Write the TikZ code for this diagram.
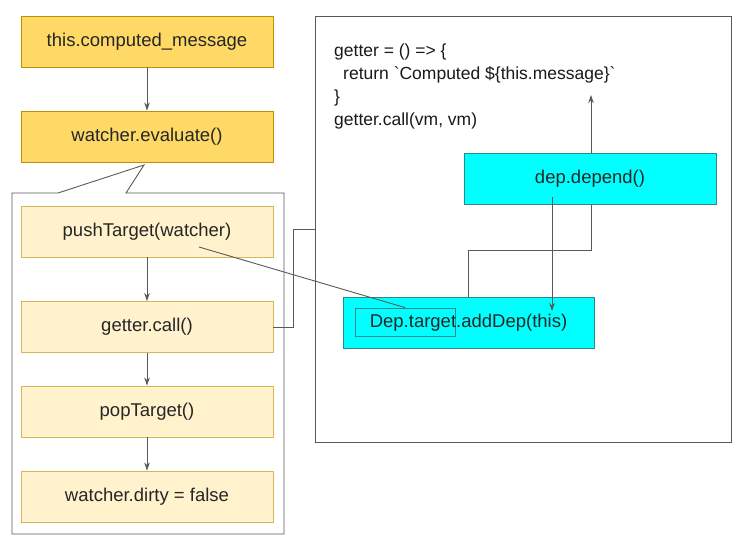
\documentclass[tikz,border=0pt]{standalone}
\usepackage{fontspec}
\setmainfont{Liberation Sans}
\usetikzlibrary{arrows.meta,calc,backgrounds}
\definecolor{gold}{HTML}{FFD966}
\definecolor{goldline}{HTML}{BF9000}
\definecolor{pale}{HTML}{FFF2CC}
\definecolor{paleline}{HTML}{D6B656}
\definecolor{cyanfill}{HTML}{00FFFF}
\definecolor{cyanline}{HTML}{2A8A8A}
\definecolor{wire}{HTML}{595959}
\tikzset{
  box/.style={draw, line width=0.9pt, minimum width=252pt, minimum height=51pt, inner sep=0pt,
    font=\fontsize{18.5}{22}\selectfont, text=black!85},
  goldbox/.style={box, fill=gold, draw=goldline},
  palebox/.style={box, fill=pale, draw=paleline},
  cyanbox/.style={box, fill=cyanfill, draw=cyanline},
  wireline/.style={draw=wire, line width=0.9pt},
  arr/.style={wireline, -{Stealth[length=8pt,width=5.5pt]}},
  frame/.style={draw=wire, line width=0.9pt}
}
\begin{document}
\begin{tikzpicture}[x=1pt,y=-1pt]
\useasboundingbox (0,0) rectangle (738,535);
% right frame
\node[frame, minimum width=416pt, minimum height=426pt, inner sep=0pt] (rr) at (523,229) {};
% callout frame
\draw[frame] (12,193) -- (58,193) -- (144,165) -- (126,193) -- (284,193) -- (284,534) -- (12,534) -- cycle;
% code text
\node[anchor=base west, align=left, inner sep=0pt, font=\fontsize{17.5}{23}\selectfont, text=black!90] (code) at (334,125)
  {getter = () => \{\\
   \hspace*{9pt}return \textasciigrave Computed \$\{this.message\}\textasciigrave\\
   \}\\
   getter.call(vm, vm)};
% left column
\node[goldbox] (cm) at (147,41.5) {this.computed\_message};
\node[goldbox] (ev) at (147,136.5) {watcher.evaluate()};
\node[palebox] (push) at (147,231.5) {pushTarget(watcher)};
\node[palebox] (gc) at (147,327) {getter.call()};
\node[palebox] (pop) at (147,411.5) {popTarget()};
\node[palebox] (dirty) at (147,496.5) {watcher.dirty = false};
% cyan boxes
\node[cyanbox] (dep) at (590,178.5) {dep.depend()};
\node[cyanbox, minimum width=251pt] (add) at (468.5,322.5) {\phantom{x}};
\node[draw=cyanline, line width=0.9pt, minimum width=100pt, minimum height=28pt, inner sep=0pt] (sr) at (405,322) {};
\node[font=\fontsize{18.5}{22}\selectfont, text=black!85, inner sep=0pt] (addt) at (add.center) {Dep.target.addDep(this)};
% connectors
\draw[arr] (cm.south) -- (ev.north);
\draw[arr] (push.south) -- (gc.north);
\draw[arr] (gc.south) -- (pop.north);
\draw[arr] (pop.south) -- (dirty.north);
\draw[wireline] (gc.east) -| ($(rr.west)+(-21,0)$) -- (rr.west);
\coordinate (pt) at (199,247);
\draw[wireline] (pt) -- (sr.north);
\coordinate (tip) at (591,95);
\begin{scope}[on background layer]
\draw[arr] (add.north) |- ($(tip)+(0,155)$) -- (tip);
\end{scope}
\coordinate (ds) at (552,197);
\coordinate (de) at (552,311);
\draw[arr] (ds) -- (de);
\end{tikzpicture}
\end{document}
